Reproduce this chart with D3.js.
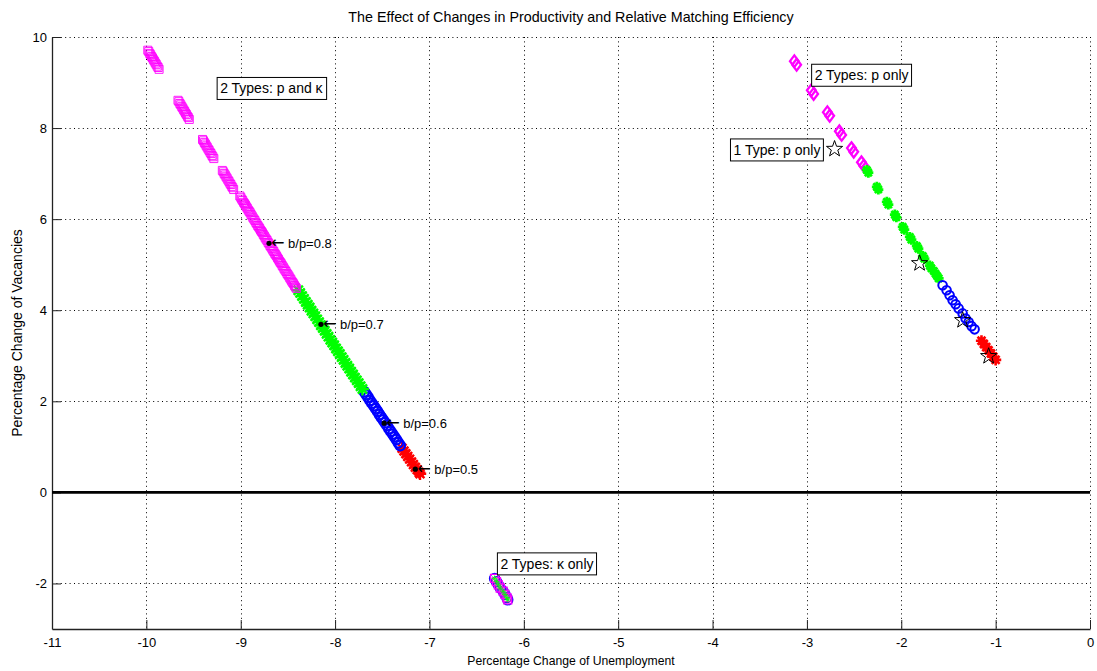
<!DOCTYPE html>
<html><head><meta charset="utf-8">
<script src="https://cdn.jsdelivr.net/npm/d3@7"></script>
<style>
body{margin:0;background:#fff;}
text{font-family:"Liberation Sans",Arial,Helvetica,sans-serif;fill:#000;}
</style></head><body>
<svg id="chart" width="1097" height="671"></svg>
<script>
// Axis ticks
const xTicks = [-11,-10,-9,-8,-7,-6,-5,-4,-3,-2,-1,0];
const yTicks = [-2,0,2,4,6,8,10];

// 2 Types: p and kappa  — [unemployment change, vacancy change]
const pkMagenta = [
  [-9.985,9.71],[-9.975,9.68],[-9.965,9.64],[-9.955,9.61],[-9.945,9.57],[-9.935,9.54],[-9.925,9.50],
  [-9.915,9.47],[-9.905,9.43],[-9.895,9.40],[-9.885,9.36],[-9.875,9.33],[-9.865,9.29],
  [-9.665,8.61],[-9.655,8.58],[-9.645,8.54],[-9.635,8.51],[-9.625,8.47],[-9.615,8.44],[-9.605,8.40],
  [-9.595,8.37],[-9.585,8.33],[-9.575,8.30],[-9.565,8.26],[-9.555,8.23],[-9.545,8.19],
  [-9.405,7.75],[-9.395,7.72],[-9.385,7.68],[-9.375,7.65],[-9.365,7.61],[-9.355,7.58],[-9.345,7.54],
  [-9.335,7.51],[-9.325,7.47],[-9.315,7.44],[-9.305,7.40],[-9.295,7.37],[-9.285,7.33],
  [-9.195,7.07],[-9.185,7.04],[-9.175,7.00],[-9.165,6.97],[-9.155,6.93],[-9.145,6.90],[-9.135,6.86],
  [-9.125,6.83],[-9.115,6.79],[-9.105,6.76],[-9.095,6.72],[-9.085,6.69],[-9.075,6.65],
  [-9.01,6.51],[-9.00,6.48],[-8.99,6.44],[-8.98,6.41],[-8.97,6.37],[-8.96,6.34],[-8.95,6.31],
  [-8.94,6.27],[-8.93,6.24],[-8.92,6.20],[-8.91,6.17],[-8.90,6.14],[-8.89,6.10],[-8.88,6.07],
  [-8.87,6.03],[-8.86,6.00],[-8.85,5.97],[-8.84,5.93],[-8.83,5.90],[-8.82,5.86],[-8.81,5.83],
  [-8.80,5.80],[-8.79,5.76],[-8.78,5.73],[-8.77,5.70],[-8.76,5.66],[-8.75,5.63],[-8.74,5.59],
  [-8.73,5.56],[-8.72,5.53],[-8.71,5.49],[-8.70,5.46],[-8.69,5.42],[-8.68,5.39],[-8.67,5.36],
  [-8.66,5.32],[-8.65,5.29],[-8.64,5.25],[-8.63,5.22],[-8.62,5.19],[-8.61,5.15],[-8.60,5.12],
  [-8.59,5.08],[-8.58,5.05],[-8.57,5.02],[-8.56,4.98],[-8.55,4.95],[-8.54,4.91],[-8.53,4.88],
  [-8.52,4.85],[-8.51,4.81],[-8.50,4.78],[-8.49,4.75],[-8.48,4.71],[-8.47,4.68],[-8.46,4.64],
  [-8.45,4.61],[-8.44,4.58],[-8.43,4.54],[-8.42,4.51],[-8.41,4.48]
];
const pkGreen = [
  [-8.39,4.44],[-8.37,4.38],[-8.35,4.31],[-8.33,4.25],[-8.31,4.18],[-8.29,4.12],[-8.27,4.06],
  [-8.25,3.99],[-8.23,3.93],[-8.21,3.87],[-8.19,3.80],[-8.17,3.74],[-8.15,3.67],[-8.13,3.61],
  [-8.11,3.55],[-8.09,3.48],[-8.07,3.42],[-8.05,3.35],[-8.03,3.29],[-8.01,3.23],[-7.99,3.16],
  [-7.97,3.10],[-7.95,3.04],[-7.93,2.97],[-7.91,2.91],[-7.89,2.84],[-7.87,2.78],[-7.85,2.72],
  [-7.83,2.65],[-7.81,2.59],[-7.79,2.52],[-7.77,2.46],[-7.75,2.40],[-7.73,2.33],[-7.71,2.27]
];
const pkBlue = [
  [-7.69,2.21],[-7.67,2.15],[-7.65,2.09],[-7.63,2.02],[-7.61,1.96],[-7.59,1.90],[-7.57,1.84],
  [-7.55,1.78],[-7.53,1.71],[-7.51,1.65],[-7.49,1.59],[-7.47,1.53],[-7.45,1.47],[-7.43,1.40],
  [-7.41,1.34],[-7.39,1.28],[-7.37,1.22],[-7.35,1.16],[-7.33,1.09],[-7.31,1.03]
];
const pkRed = [
  [-7.29,0.97],[-7.27,0.91],[-7.25,0.85],[-7.23,0.79],[-7.21,0.73],[-7.19,0.67],
  [-7.17,0.61],[-7.15,0.55],[-7.13,0.50],[-7.11,0.44],[-7.10,0.41]
];

// b/p reference points on the p-and-kappa curve
const bpLevels = [0.8, 0.7, 0.6, 0.5];
const bpU = [-8.70, -8.15, -7.48, -7.15];
const bpV = [5.47, 3.69, 1.52, 0.51];

// 2 Types: p only
const pMagenta = [
  [-3.133,9.47],[-3.109,9.39],[-2.953,8.83],[-2.929,8.75],[-2.783,8.35],[-2.759,8.27],
  [-2.656,7.93],[-2.632,7.85],[-2.528,7.56],[-2.504,7.48],[-2.422,7.25],[-2.398,7.17]
];
const pGreen = [
  [-2.365,7.08],[-2.349,7.02],[-2.259,6.71],[-2.243,6.65],[-2.153,6.38],[-2.137,6.32],
  [-2.068,6.10],[-2.052,6.04],[-1.984,5.83],[-1.968,5.77],[-1.909,5.61],[-1.893,5.55],
  [-1.835,5.41],[-1.819,5.35],[-1.771,5.19],[-1.755,5.13],[-1.697,4.98],[-1.681,4.92],
  [-1.655,4.86],[-1.636,4.80],[-1.620,4.75],[-1.604,4.70]
];
const pBlue = [
  [-1.562,4.55],[-1.520,4.44],[-1.488,4.33],[-1.456,4.22],[-1.424,4.13],[-1.392,4.04],
  [-1.350,3.93],[-1.318,3.82],[-1.286,3.74],[-1.255,3.65],[-1.223,3.58]
];
const pRed = [
  [-1.150,3.33],[-1.125,3.26],[-1.100,3.19],[-1.075,3.12],[-1.050,3.05],[-1.025,2.98],[-1.000,2.91]
];

// 1 Type: p only
const oneType = [[-2.707,7.54],[-1.806,5.03],[-1.350,3.78],[-1.074,2.99]];

// 2 Types: kappa only
const kOnly = [
  [-6.31,-1.89],[-6.29,-1.96],[-6.27,-2.03],[-6.25,-2.10],[-6.22,-2.17],[-6.20,-2.24],[-6.18,-2.31],[-6.17,-2.36]
];

// Boxed labels: text and anchor (left, middle) in data units
const boxText = ["2 Types: p and \u03ba", "2 Types: p only", "1 Type: p only", "2 Types: \u03ba only"];
const boxU = [-9.25, -2.95, -3.81, -6.28];
const boxV = [8.87, 9.16, 7.52, -1.57];

const W = 1097, H = 671;
const svg = d3.select("#chart");
svg.append("rect").attr("width", W).attr("height", H).attr("fill", "#fff");

const x = d3.scaleLinear().domain([-11, 0]).range([52, 1090]);
const y = d3.scaleLinear().domain([-3, 10]).range([629, 37]);

// Dotted grid
const grid = svg.append("g").attr("stroke", "#000").attr("stroke-width", 1)
  .attr("stroke-dasharray", "1,3.4");
grid.selectAll("line.gx").data(xTicks).join("line")
  .attr("x1", d => Math.round(x(d)) + 0.5).attr("x2", d => Math.round(x(d)) + 0.5)
  .attr("y1", y(10)).attr("y2", y(-3));
grid.selectAll("line.gy").data(yTicks).join("line")
  .attr("y1", d => Math.round(y(d)) + 0.5).attr("y2", d => Math.round(y(d)) + 0.5)
  .attr("x1", x(-11)).attr("x2", x(0));

// Axes with inward ticks
const xAxis = svg.append("g").attr("transform", `translate(0,${y(-3)})`)
  .call(d3.axisBottom(x).tickValues(xTicks).tickSize(-9).tickSizeOuter(0).tickPadding(9));
const yAxis = svg.append("g").attr("transform", `translate(${x(-11)},0)`)
  .call(d3.axisLeft(y).tickValues(yTicks).tickSize(-9).tickSizeOuter(0).tickPadding(5));
[xAxis, yAxis].forEach(g => {
  g.selectAll("path.domain").attr("stroke", "#222").attr("stroke-width", 1.3);
  g.selectAll(".tick line").attr("stroke", "#222");
  g.selectAll(".tick text").attr("font-size", 13).attr("fill", "#000")
    .style("font-family", '"Liberation Sans",Arial,sans-serif')
    .text(d => String(d));
});

// Zero line
svg.append("line").attr("x1", x(-11)).attr("x2", x(0))
  .attr("y1", y(0)).attr("y2", y(0)).attr("stroke", "#000").attr("stroke-width", 2.6);

// Marker shapes
function asterisk(r) {
  const d = r * 0.707;
  return `M${-r},0L${r},0M0,${-r}L0,${r}M${-d},${-d}L${d},${d}M${-d},${d}L${d},${-d}`;
}
function diamond(w, h) { return `M0,${-h}L${w},0L0,${h}L${-w},0Z`; }
function square(s) { const h = s / 2; return `M${-h},${-h}H${h}V${h}H${-h}Z`; }
function pentagram(R) {
  const r = R * 0.4, pts = [];
  for (let i = 0; i < 10; i++) {
    const a = -Math.PI / 2 + i * Math.PI / 5, rr = i % 2 ? r : R;
    pts.push([rr * Math.cos(a), rr * Math.sin(a)]);
  }
  return "M" + pts.map(p => p.map(v => v.toFixed(2)).join(",")).join("L") + "Z";
}

function plotMarkers(data, path, color, sw, fill) {
  svg.append("g").selectAll("path").data(data).join("path")
    .attr("transform", d => `translate(${x(d[0])},${y(d[1])})`)
    .attr("d", path).attr("fill", fill || "none").attr("stroke", color)
    .attr("stroke-width", sw);
}
function plotCircles(data, r, color, sw) {
  svg.append("g").selectAll("circle").data(data).join("circle")
    .attr("cx", d => x(d[0])).attr("cy", d => y(d[1])).attr("r", r)
    .attr("fill", "none").attr("stroke", color).attr("stroke-width", sw);
}

const MAG = "#ff00ff", GRN = "#00ff00", BLU = "#0000ff", RED = "#ff0000";

// 2 Types: p and kappa
plotMarkers(pkRed, asterisk(6.2), RED, 2.4);
plotCircles(pkBlue, 4.8, BLU, 2.2);
plotMarkers(pkGreen, asterisk(6.5), GRN, 2.4);
plotMarkers(pkMagenta, square(8), MAG, 0.9);

// 2 Types: kappa only
plotCircles(kOnly, 5, BLU, 1.4);
plotMarkers(kOnly, square(8), MAG, 1.3);
plotMarkers(kOnly, asterisk(3), GRN, 0.8);

// 2 Types: p only
plotMarkers(pMagenta, diamond(4.4, 5.8), MAG, 2.3);
plotMarkers(pGreen, asterisk(5), GRN, 2.8);
plotCircles(pBlue, 4.3, BLU, 2);
plotMarkers(pRed, asterisk(5.6), RED, 2.6);

// 1 Type: p only
plotMarkers(oneType, pentagram(8.5), "#000", 1);

// b/p points with labels
const bp = bpLevels.map((b, i) => ({ b, u: bpU[i], v: bpV[i] }));
svg.append("g").selectAll("circle").data(bp).join("circle")
  .attr("cx", d => x(d.u)).attr("cy", d => y(d.v)).attr("r", 2.6).attr("fill", "#000");
const ann = svg.append("g").selectAll("text").data(bp).join("text")
  .attr("x", d => x(d.u) + 2).attr("y", d => y(d.v) + 4.6)
  .attr("font-size", 13);
ann.append("tspan").style("font-family", '"DejaVu Sans",sans-serif')
  .attr("font-size", 16).text("\u2190");
ann.append("tspan").text(d => ` b/p=${d.b}`);

// Boxed labels
boxText.forEach((t, i) => {
  const g = svg.append("g");
  const tx = g.append("text").attr("x", x(boxU[i]) + 3).attr("y", y(boxV[i]))
    .attr("dy", "0.35em").attr("font-size", 14).text(t);
  const bb = tx.node().getBBox();
  g.insert("rect", "text").attr("x", x(boxU[i])).attr("y", y(boxV[i]) - 11)
    .attr("width", bb.width + 6).attr("height", 22)
    .attr("fill", "#fff").attr("stroke", "#000").attr("stroke-width", 1);
});

// Title and axis labels
svg.append("text").attr("x", 571).attr("y", 22).attr("text-anchor", "middle")
  .attr("font-size", 14.3).text("The Effect of Changes in Productivity and Relative Matching Efficiency");
svg.append("text").attr("x", 571).attr("y", 665).attr("text-anchor", "middle")
  .attr("font-size", 12.2).text("Percentage Change of Unemployment");
svg.append("text").attr("transform", "translate(22,333) rotate(-90)").attr("text-anchor", "middle")
  .attr("font-size", 14).text("Percentage Change of Vacancies");
</script>
</body></html>
